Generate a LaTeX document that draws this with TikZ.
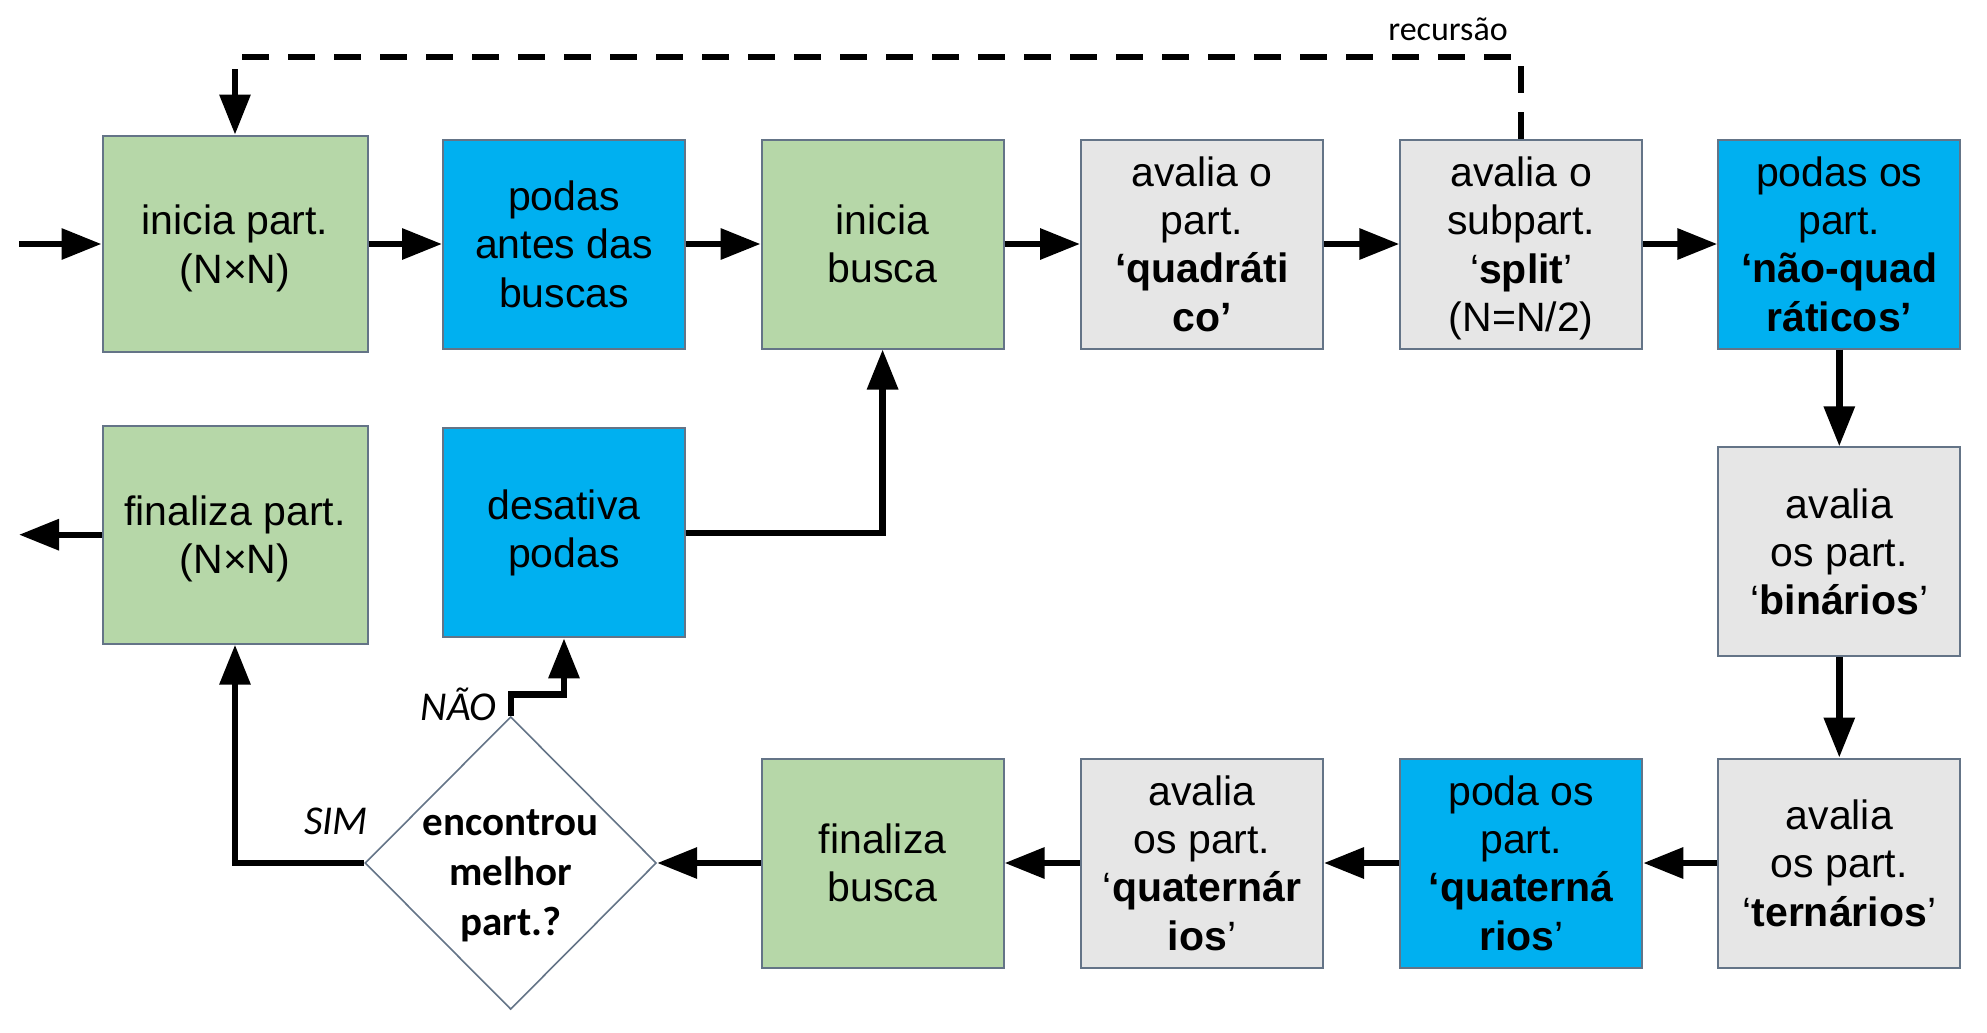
\documentclass[tikz,border=0pt]{standalone}
\usepackage{fontspec}
\setmainfont{Liberation Sans}
\newfontfamily\calib{Carlito}
\usetikzlibrary{arrows.meta,shapes.geometric}
\definecolor{boxgreen}{RGB}{182,215,168}
\definecolor{boxblue}{RGB}{0,176,240}
\definecolor{boxgray}{RGB}{230,230,230}
\definecolor{boxline}{RGB}{100,116,135}
\newcommand{\nodp}[1]{\raisebox{0pt}[\height][0pt]{#1}}
\tikzset{
  pbox/.style={draw=boxline,line width=1pt,minimum width=121pt,minimum height=104.5pt,
    inner sep=0pt,align=center,font=\fontsize{20.5}{24.2}\selectfont},
  gbox/.style={pbox,fill=boxgreen},
  bbox/.style={pbox,fill=boxblue},
  ybox/.style={pbox,fill=boxgray},
  decision/.style={draw=boxline,line width=0.8pt,fill=white,shape=diamond,aspect=1,
    minimum width=145.7pt,minimum height=146.4pt,inner sep=0pt},
  dectext/.style={align=center,font=\calib\bfseries\fontsize{20.5}{25}\selectfont},
  lbl/.style={font=\calib\itshape\fontsize{20.5}{24}\selectfont,inner sep=0pt},
  arr/.style={line width=3.2pt,-{Triangle[length=20pt,width=15pt]}},
  dasharr/.style={line width=3pt,dash pattern=on 13.5pt off 9.5pt,-{Triangle[length=20pt,width=15pt]}}
}
\begin{document}
\begin{tikzpicture}[x=0.5pt,y=-0.5pt]
\useasboundingbox (0,0) rectangle (1987,1033);
% top row
\node[gbox,minimum width=132.5pt,minimum height=108.4pt] (A) at (235,244) {inicia part.\\\nodp{(N×N)}};
\node[bbox] (B) at (564,244) {podas\\antes das\\buscas};
\node[gbox] (C) at (882.6,244) {inicia\\busca};
\node[ybox] (D) at (1202,244) {avalia o\\part.\\\textbf{‘quadráti}\\\textbf{co’}};
\node[ybox] (E) at (1521.3,244) {avalia o\\subpart.\\‘\textbf{split}’\\\nodp{(N=N/2)}};
\node[bbox] (F) at (1839.3,244) {podas os\\part.\\\textbf{‘não-quad}\\\textbf{ráticos’}};
% right column
\node[ybox] (G) at (1839.3,551.8) {avalia\\os part.\\‘\textbf{binários}’};
% bottom row
\node[ybox] (H) at (1839.3,863) {avalia\\os part.\\‘\textbf{ternários}’};
\node[bbox] (I) at (1521.3,863) {poda os\\part.\\\textbf{‘quaterná}\\\textbf{rios}’};
\node[ybox] (J) at (1202,863) {avalia\\os part.\\‘\textbf{quaternár}\\\textbf{ios}’};
\node[gbox] (K) at (882.6,863) {finaliza\\busca};
\node[decision] (dec) at (510.7,863) {};
\node[dectext] (dect) at (510.7,875.5) {encontrou\\melhor\\part.?};
% middle left
\node[gbox,minimum width=132.5pt,minimum height=109pt] (L) at (235,534.7) {finaliza part.\\\nodp{(N×N)}};
\node[bbox] (M) at (564,532.9) {desativa\\podas};
% labels
\node[lbl] (sim) at (336,821) {SIM};
\node[lbl] (nao) at (458.7,704.6) {NÃO};
\node[font=\calib\fontsize{17}{19}\selectfont,inner sep=0pt] (rec) at (1448,29) {recursão};
% coordinates
\coordinate (in) at (19,244);
\coordinate (out) at (19,534.7);
\coordinate (nb) at (510.7,694.4);
\coordinate (rtop) at (1521.3,57);
% connectors
\draw[arr] (in) -- (A.west);
\draw[arr] (A.east) -- (B.west);
\draw[arr] (B.east) -- (C.west);
\draw[arr] (C.east) -- (D.west);
\draw[arr] (D.east) -- (E.west);
\draw[arr] (E.east) -- (F.west);
\draw[arr] (F.south) -- (G.north);
\draw[arr] (G.south) -- (H.north);
\draw[arr] (H.west) -- (I.east);
\draw[arr] (I.west) -- (J.east);
\draw[arr] (J.west) -- (K.east);
\draw[arr] (K.west) -- (dec.east);
\draw[arr] (dec.west) -| (L.south);
\draw[arr] (dec.north) -- (nb) -| (M.south);
\draw[arr] (M.east) -| (C.south);
\draw[arr] (L.west) -- (out);
\draw[dasharr] (E.north) -- (rtop) -| (A.north);
\end{tikzpicture}
\end{document}
